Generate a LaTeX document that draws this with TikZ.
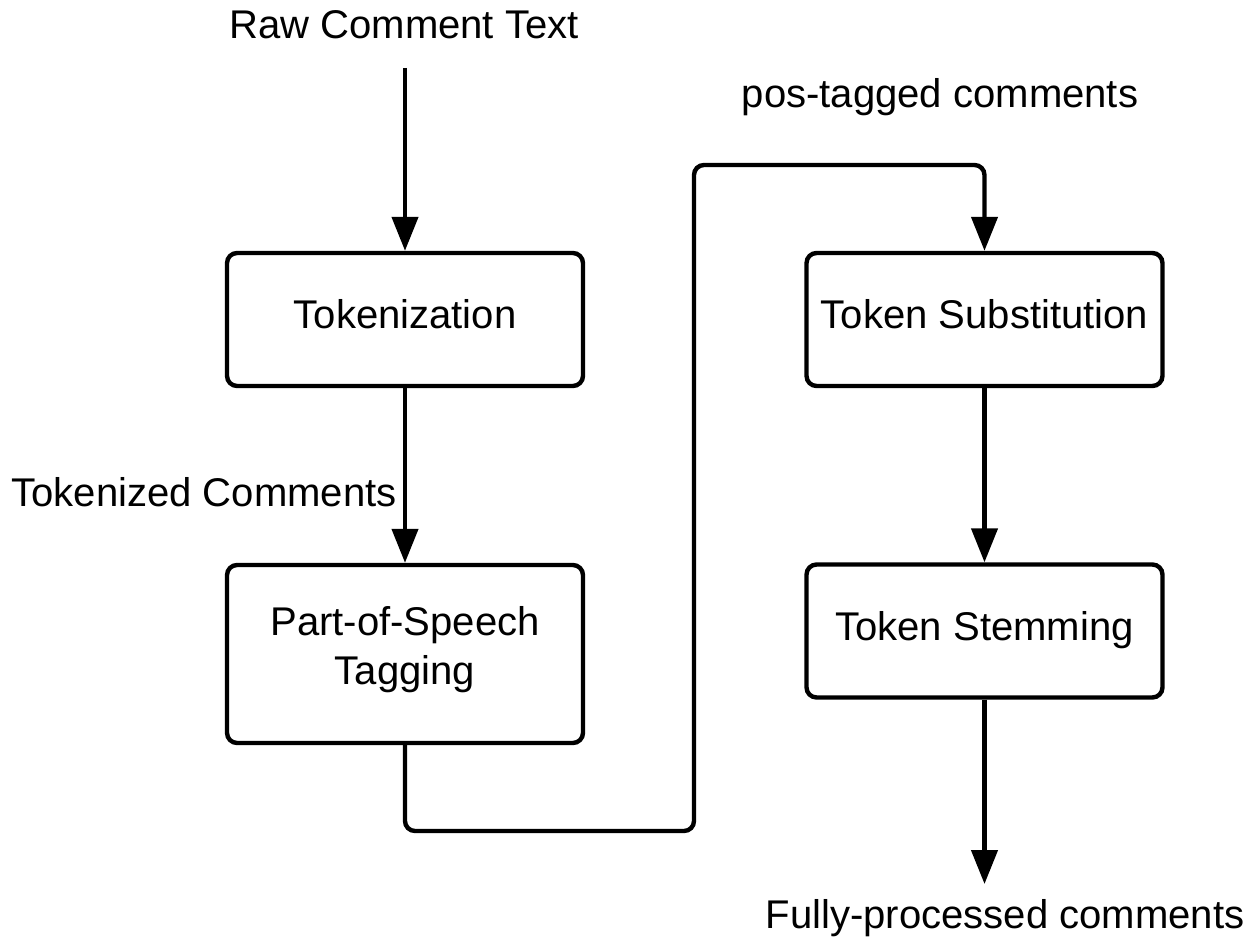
\documentclass[tikz,border=0pt]{standalone}
\usepackage{fontspec}
\setmainfont{Liberation Sans}
\usetikzlibrary{arrows.meta,calc,positioning}

\begin{document}
\begin{tikzpicture}[x=0.02cm,y=-0.02cm,
  every node/.style={font=\fontsize{22.8}{27.5}\selectfont},
  stage/.style={draw,line width=2.5pt,rounded corners=0.2cm,minimum width=7.12cm,minimum height=2.66cm,align=center,text height=0.7cm,text depth=0.34cm},
  flow/.style={line width=2.5pt,-{Triangle[length=0.68cm,width=0.52cm]}}]
\useasboundingbox (0,0) rectangle (1258,939);
\coordinate (src) at (405,68);
\coordinate (sink) at (984.5,884);
\coordinate (turn1) at (694,831);
\coordinate (turn2) at (694,165);
\node[stage] (tok) at (405,319.5) {Tokenization};
\node[stage,minimum height=3.56cm,text height=] (pos) at (405,654) {Part-of-Speech\\Tagging};
\node[stage] (subst) at (984.5,319.5) {Token Substitution};
\node[stage] (stem) at (984.5,631) {Token Stemming};
\node (rawtxt) at (404,25) {Raw Comment Text};
\node[anchor=east,inner sep=0pt] (toktxt) at (397,492) {Tokenized Comments};
\node (postxt) at (940,97) {pos-tagged comments};
\node (fulltxt) at (1005,918) {Fully-processed comments};
\draw[flow] (src) -- (tok.north);
\draw[flow] (tok) -- (pos);
\draw[flow,rounded corners=0.2cm] (pos.south) |- (turn1) -- (turn2) -| (subst.north);
\draw[flow] (subst) -- (stem);
\draw[flow] (stem) -- (sink);
\end{tikzpicture}
\end{document}
